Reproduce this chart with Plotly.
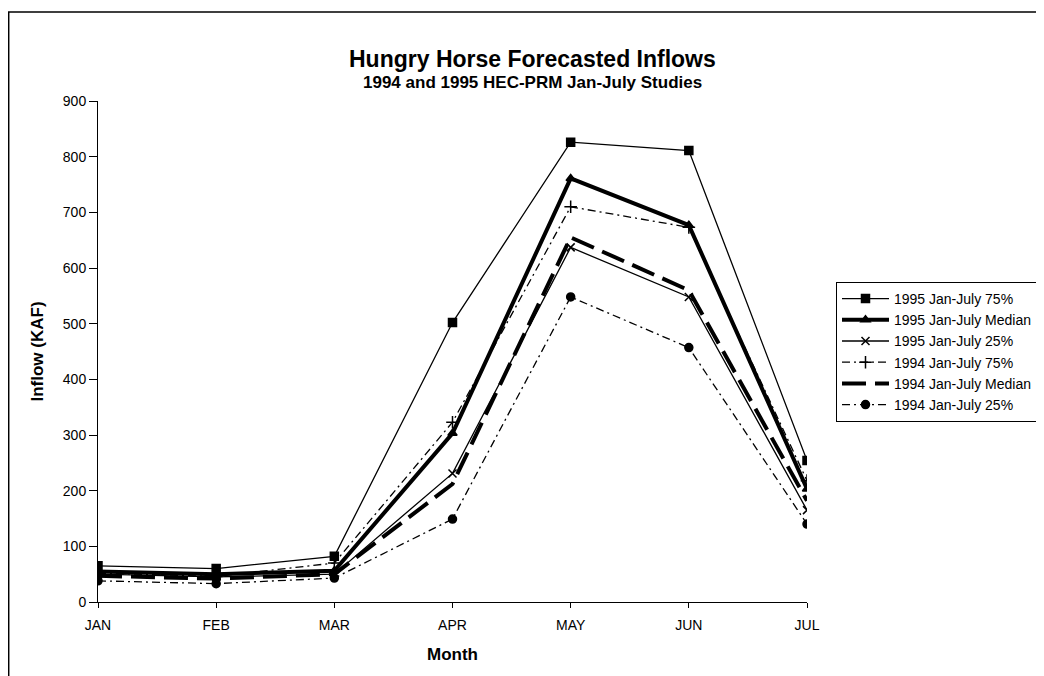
import plotly.graph_objects as go

months = ["JAN", "FEB", "MAR", "APR", "MAY", "JUN", "JUL"]
s1995_75 = [65, 60, 82, 502, 826, 811, 254]
s1995_med = [55, 50, 56, 303, 761, 677, 203]
s1995_25 = [50, 45, 50, 231, 637, 548, 165]
s1994_75 = [52, 46, 70, 323, 710, 673, 218]
s1994_med = [47, 42, 50, 212, 655, 560, 182]
s1994_25 = [38, 33, 43, 149, 548, 457, 140]

FONT = "Liberation Sans, Arial, Helvetica, sans-serif"

fig = go.Figure()

def add(name, y, width, dash, symbol, size=8):
    fig.add_trace(go.Scatter(
        x=months, y=y, name=name,
        mode="lines+markers" if symbol else "lines",
        line=dict(color="black", width=width, dash=dash),
        marker=dict(symbol=symbol or "circle", size=size, color="black",
                    line=dict(color="black", width=1.5)),
    ))

add("1995 Jan-July 75%", s1995_75, 1.3, "solid", "square", 8)
add("1995 Jan-July Median", s1995_med, 4, "solid", "triangle-up", 8)
add("1995 Jan-July 25%", s1995_25, 1.3, "solid", "x-thin", 8)
add("1994 Jan-July 75%", s1994_75, 1.3, "8px,4px,2px,4px", "cross-thin", 9)
add("1994 Jan-July Median", s1994_med, 4, "24px,9px", None)
add("1994 Jan-July 25%", s1994_25, 1.3, "8px,4px,2px,4px", "circle", 8)

OFF = 8  # page body margin
W, H = 1044, 676
L, R, T, B = 98 - OFF, 807 - OFF, 101 - OFF, 602 - OFF

def px(x):  # screen x -> paper
    return (x - OFF - L) / (R - L)

def py(y):  # screen y -> paper
    return (B - (y - OFF)) / (B - T)

fig.add_shape(type="rect", xref="paper", yref="paper",
              x0=px(8.7), x1=px(1070), y0=py(700), y1=py(12),
              line=dict(color="black", width=1.5), fillcolor="rgba(0,0,0,0)",
              layer="below")

fig.add_annotation(text="<b>Hungry Horse Forecasted Inflows</b>", xref="paper", yref="paper",
                   x=px(532), y=py(59), xanchor="center", yanchor="middle", showarrow=False,
                   font=dict(size=23, family=FONT, color="black"))
fig.add_annotation(text="<b>1994 and 1995 HEC-PRM Jan-July Studies</b>", xref="paper", yref="paper",
                   x=px(532), y=py(82), xanchor="center", yanchor="middle", showarrow=False,
                   font=dict(size=17, family=FONT, color="black"))

fig.update_layout(
    width=W, height=H,
    margin=dict(l=L, r=W - R, t=T, b=H - B, autoexpand=False),
    paper_bgcolor="white", plot_bgcolor="white",
    font=dict(family=FONT, color="black", size=14),
    xaxis=dict(
        type="category", range=[0, 6], showline=True, linecolor="black", linewidth=1,
        ticks="outside", ticklen=5, tickcolor="black", showgrid=False, zeroline=False,
        tickfont=dict(size=14, family=FONT), ticklabelstandoff=5,
        title=dict(text="<b>Month</b>", font=dict(size=17, family=FONT), standoff=16),
    ),
    yaxis=dict(
        range=[0, 900], dtick=100, showline=True, linecolor="black", linewidth=1,
        ticks="outside", ticklen=8, tickcolor="black", showgrid=False, zeroline=False,
        tickfont=dict(size=14, family=FONT),
        title=dict(text="<b>Inflow (KAF)</b>", font=dict(size=17, family=FONT), standoff=14),
    ),
    legend=dict(
        x=px(836), xanchor="left", y=py(282), yanchor="top",
        bordercolor="black", borderwidth=1, bgcolor="white",
        font=dict(size=14, family=FONT), itemwidth=47, tracegroupgap=0,
    ),
    showlegend=True,
)

fig.write_html("out.html")
